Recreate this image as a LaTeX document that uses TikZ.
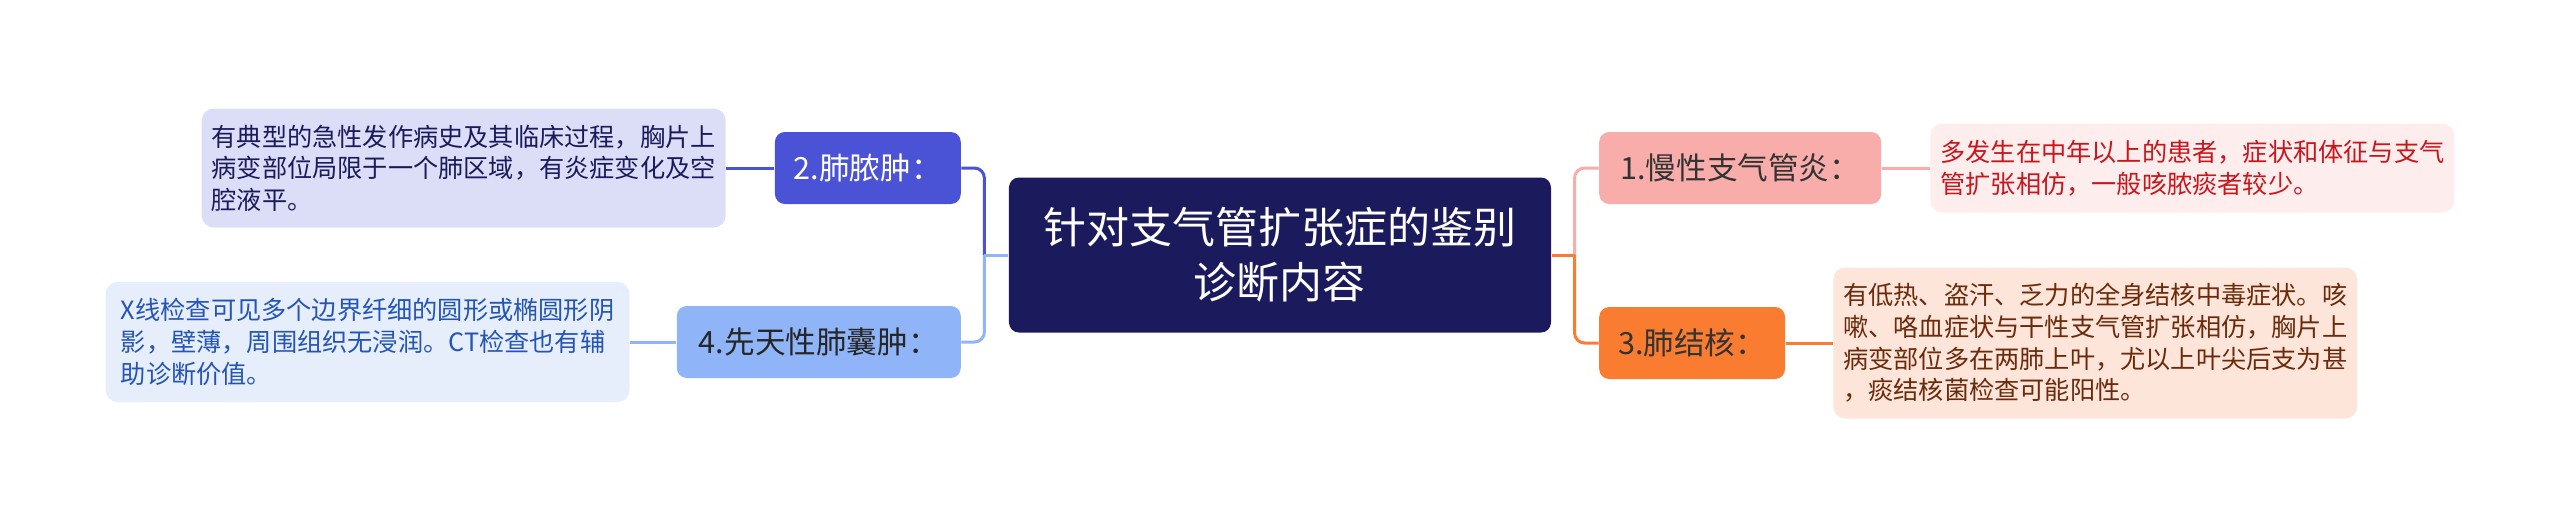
\documentclass[tikz,border=0pt]{standalone}
\usepackage{fontspec}
\setmainfont{Noto Sans CJK SC}
\usepackage{xcolor}
\usepackage{tikz}
\usetikzlibrary{calc,positioning}

\definecolor{rootbg}{HTML}{1B1A5C}
\definecolor{bluedk}{HTML}{4A52D6}
\definecolor{bluedkbg}{HTML}{DCDDF6}
\definecolor{bluelt}{HTML}{8FB4F8}
\definecolor{blueltbg}{HTML}{E6EEFC}
\definecolor{blueltx}{HTML}{2454B4}
\definecolor{pinkc}{HTML}{F8ADAB}
\definecolor{pinkbg}{HTML}{FDEDED}
\definecolor{pinktx}{HTML}{C8161D}
\definecolor{orangec}{HTML}{F97C31}
\definecolor{orangebg}{HTML}{FDE5DA}
\definecolor{orangetx}{HTML}{6B2A0A}

\begin{document}
\begin{tikzpicture}[
		semithick,
		root/.style={rectangle, rounded corners=5pt, fill=rootbg, text=white,
			minimum width=271pt, minimum height=77.5pt, align=center,
			font=\fontsize{21.5}{27.5}\selectfont},
		branch/.style={rectangle, rounded corners=5pt, minimum height=36pt,
			inner xsep=9.5pt, font=\fontsize{15.3}{18}\selectfont},
		leaf/.style={rectangle, rounded corners=6pt, align=left, inner xsep=5pt,
			minimum width=262pt, font=\fontsize{12.6}{15.8}\selectfont},
		link/.style={line width=1.5pt, rounded corners=5pt}
	]
	\useasboundingbox (-640pt,-136pt) rectangle (640pt,127.5pt);

	\node[root] (0) {针对支气管扩张症的鉴别\\诊断内容};

	\node[branch, fill=pinkc, text=black!80, minimum width=141pt] (1) [right=23.5pt of 0, yshift=43.5pt] {1.慢性支气管炎：};
	\node[branch, fill=orangec, text=black!80] (3) [right=23.5pt of 0, yshift=-44pt] {3.肺结核：};
	\node[branch, fill=bluedk, text=white] (2) [left=23.5pt of 0, yshift=43.5pt] {2.肺脓肿：};
	\node[branch, fill=bluelt, text=black!85, minimum width=142pt] (4) [left=23.5pt of 0, yshift=-43.5pt] {4.先天性肺囊肿：};

	\node[leaf, fill=pinkbg, text=pinktx, minimum height=44.5pt] (t1) [right=24pt of 1]
		{多发生在中年以上的患者，症状和体征与支气\\管扩张相仿，一般咳脓痰者较少。};
	\node[leaf, fill=orangebg, text=orangetx, minimum height=75.5pt] (t3) [right=23.5pt of 3]
		{有低热、盗汗、乏力的全身结核中毒症状。咳\\嗽、咯血症状与干性支气管扩张相仿，胸片上\\病变部位多在两肺上叶，尤以上叶尖后支为甚\\，痰结核菌检查可能阳性。};
	\node[leaf, fill=bluedkbg, text=rootbg, minimum height=59.5pt] (t2) [left=24pt of 2]
		{有典型的急性发作病史及其临床过程，胸片上\\病变部位局限于一个肺区域，有炎症变化及空\\腔液平。};
	\node[leaf, fill=blueltbg, text=blueltx, minimum height=60pt] (t4) [left=23pt of 4]
		{X线检查可见多个边界纤细的圆形或椭圆形阴\\影，壁薄，周围组织无浸润。CT检查也有辅\\助诊断价值。};

	\coordinate (rj) at ($(0.east)+(11.5pt,0)$);
	\coordinate (lj) at ($(0.west)-(12pt,0)$);

	\draw[link, pinkc] (rj) |- (1.west);
	\draw[line width=1.5pt, orangec] (0.east) -- (rj);
	\draw[link, orangec] (rj) |- (3.west);
	\draw[link, bluedk] (lj) |- (2.east);
	\draw[line width=1.5pt, bluelt] (0.west) -- (lj);
	\draw[link, bluelt] (lj) |- (4.east);

	\path (1) edge[link, pinkc] (t1)
	      (3) edge[link, orangec] (t3)
	      (2) edge[link, bluedk] (t2)
	      (4) edge[link, bluelt] (t4);
\end{tikzpicture}
\end{document}
